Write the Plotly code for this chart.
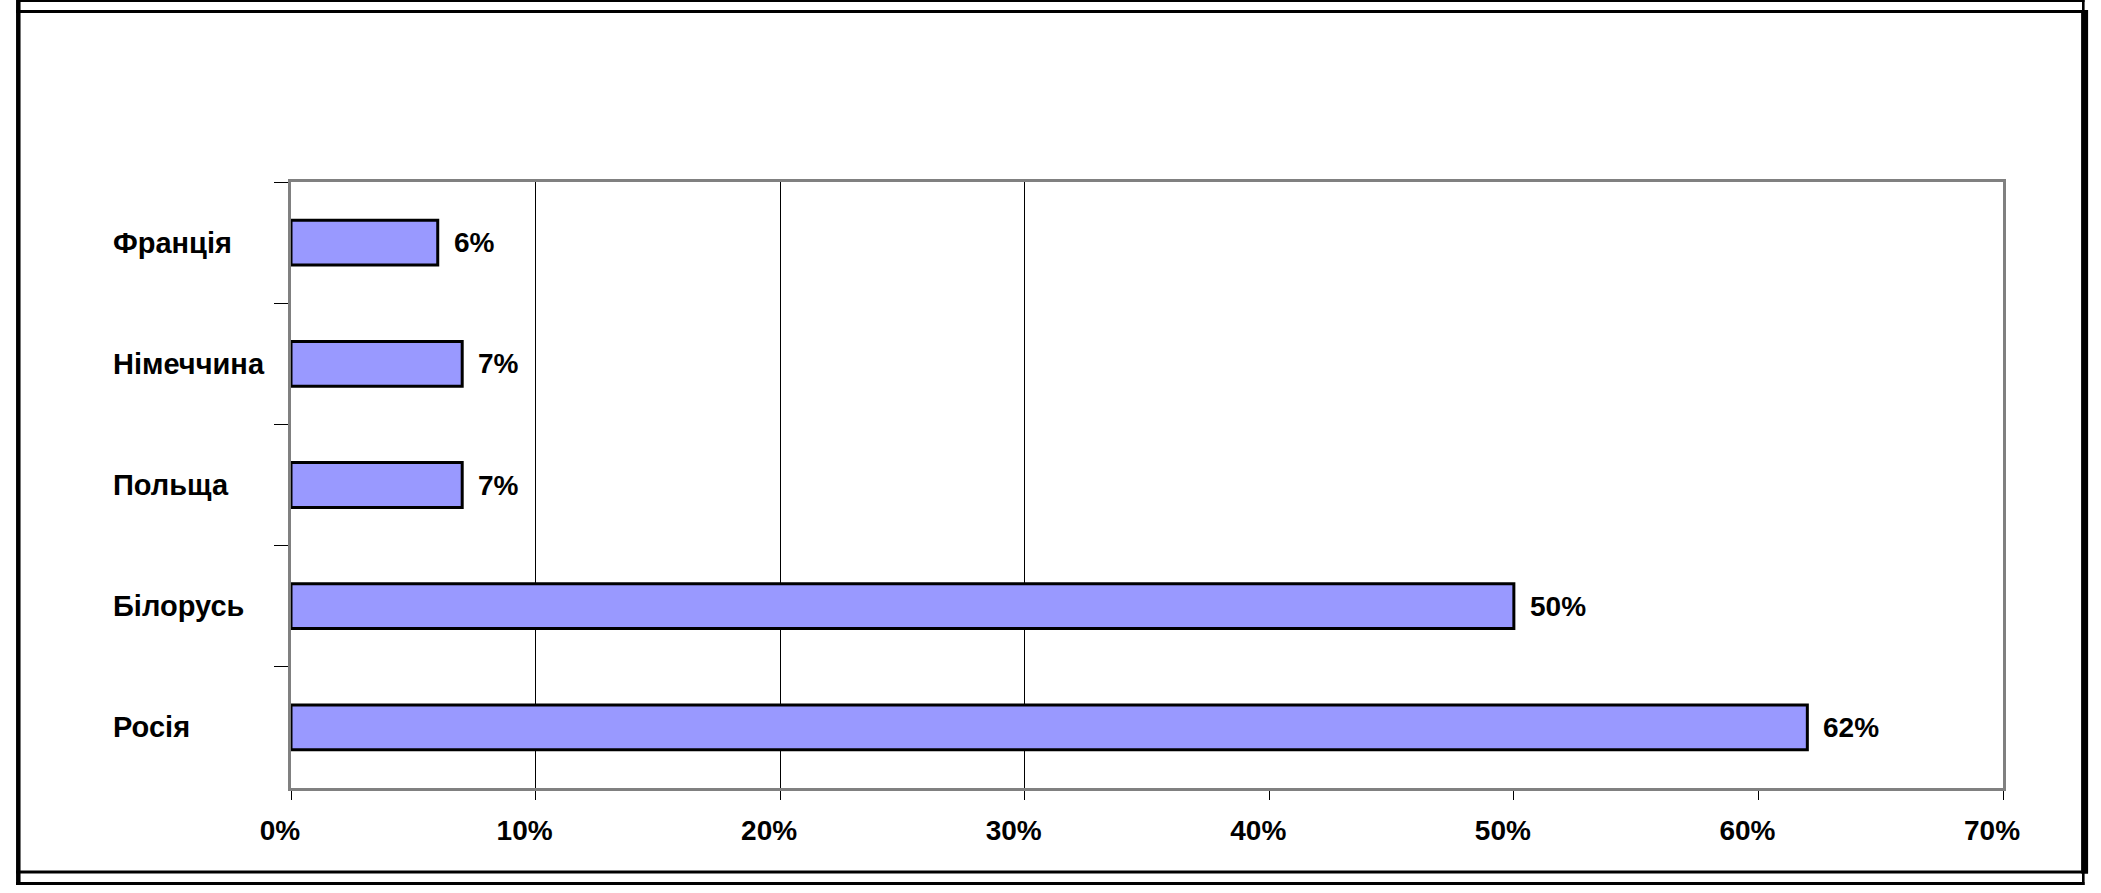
import plotly.graph_objects as go

# ---- data ----
countries = ["Франція", "Німеччина", "Польща", "Білорусь", "Росія"]
shares = [0.06, 0.07, 0.07, 0.50, 0.62]
x_ticks = [0.0, 0.1, 0.2, 0.3, 0.4, 0.5, 0.6, 0.7]
x_tick_labels = ["0%", "10%", "20%", "30%", "40%", "50%", "60%", "70%"]
grid_ticks = [0.1, 0.2, 0.3]

# ---- layout geometry (pixels) ----
W, H = 2101, 893
PL, PR, PT, PB = 291, 2003, 182, 788
FONT = dict(family="Liberation Sans, Arial, sans-serif", size=28, color="black", weight=700)
CAT_FONT = dict(family="Liberation Sans, Arial, sans-serif", size=29, color="black", weight=700)


def px_x(px):
    return (px - PL) / (PR - PL)


def px_y(py):
    return (PB - py) / (PB - PT)


fig = go.Figure()
fig.add_trace(go.Bar(
    x=shares, y=countries, orientation="h",
    marker=dict(color="#9999FF", line=dict(color="black", width=3)),
    hoverinfo="skip", showlegend=False,
))
# invisible trace to carry the gridline axis
fig.add_trace(go.Scatter(x=[x_ticks[0], x_ticks[-1]], y=[countries[0], countries[0]],
                         xaxis="x2", mode="markers", marker=dict(opacity=0),
                         hoverinfo="skip", showlegend=False))

annotations = []
for c, v in zip(countries, shares):
    annotations.append(dict(x=v, y=c, xref="x", yref="y", text=f"{v:.0%}",
                            showarrow=False, xanchor="left", yanchor="middle",
                            xshift=14, font=FONT))
    annotations.append(dict(x=px_x(111), y=c, xref="paper", yref="y", text=c,
                            showarrow=False, xanchor="left", yanchor="middle",
                            font=CAT_FONT))

shapes = []


def hline(py, x0, x1, w):
    shapes.append(dict(type="line", xref="paper", yref="paper",
                       x0=px_x(x0), x1=px_x(x1), y0=px_y(py), y1=px_y(py),
                       line=dict(color="black", width=w)))


def vline(px, y0, y1, w):
    shapes.append(dict(type="line", xref="paper", yref="paper",
                       x0=px_x(px), x1=px_x(px), y0=px_y(y0), y1=px_y(y1),
                       line=dict(color="black", width=w)))


hline(1.0, 18, 2084.5, 2)
hline(11.4, 16, 2088, 3)
vline(18.3, 0, 885, 4.5)
vline(2084.6, 10, 873.5, 7)
vline(2083.3, 0, 885, 2.6)
hline(872.0, 16, 2088, 3)
hline(883.4, 16, 2084.5, 3)

fig.update_layout(
    width=W, height=H,
    margin=dict(l=PL, r=W - PR, t=PT, b=H - PB, pad=0),
    paper_bgcolor="white", plot_bgcolor="white",
    bargap=0.63,
    showlegend=False,
    annotations=annotations,
    shapes=shapes,
    xaxis=dict(range=[x_ticks[0], x_ticks[-1]], tickvals=x_ticks, ticktext=x_tick_labels,
               showgrid=False, zeroline=False, showline=True, linecolor="#808080",
               linewidth=2.5, mirror=True, ticks="outside", ticklen=9, tickwidth=1,
               tickcolor="black", tickfont=FONT, ticklabelshift=-11, ticklabelstandoff=7,
               fixedrange=True),
    xaxis2=dict(range=[x_ticks[0], x_ticks[-1]], overlaying="x", side="bottom",
                tickvals=grid_ticks, showgrid=True, gridcolor="black", gridwidth=1,
                showticklabels=False, ticks="", showline=False, zeroline=False,
                fixedrange=True),
    yaxis=dict(autorange="reversed", showticklabels=False, tickson="boundaries",
               ticks="outside", ticklen=14, tickwidth=1, tickcolor="black",
               showgrid=False, zeroline=False, showline=True, linecolor="#808080",
               linewidth=2.5, mirror=True, fixedrange=True),
)

fig.write_html("out.html", config={"displayModeBar": False},
               post_script="document.body.style.margin='0';document.body.style.overflow='hidden';")
